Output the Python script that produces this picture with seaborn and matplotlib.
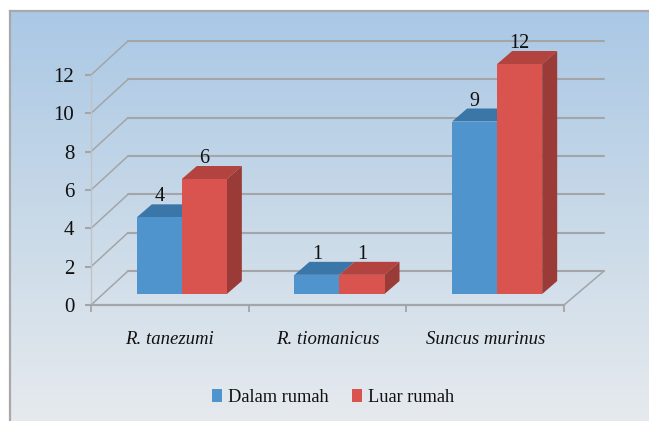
import numpy as np
import pandas as pd
import matplotlib
matplotlib.use('Agg')
import matplotlib.pyplot as plt
from matplotlib.patches import Polygon
import seaborn as sns

# Values
species = ['R. tanezumi', 'R. tiomanicus', 'Suncus murinus']
dalam_rumah = [4, 1, 9]
luar_rumah = [6, 1, 12]
y_ticks = [0, 2, 4, 6, 8, 10, 12]

W, H = 649, 421
PX_X = 157.67   # pixels per category
PX_Y = 19.17    # pixels per y unit

# depth of the fake 3d box and of the bars, in data units
wall_dx, wall_dy = 37 / PX_X, 34 / PX_Y
wall_right_dx = 40 / PX_X
slab_dx, slab_dy = 12 / PX_X, 11 / PX_Y
bar_dx, bar_dy = 15 / PX_X, 13 / PX_Y

GRID = '#a3a5a8'
BLUE, BLUE_TOP = '#4f94cd', '#3a76a8'
RED, RED_TOP, RED_SIDE = '#d9534f', '#b3433f', '#9a3b38'

sns.set_style('white')
plt.rcParams['font.family'] = ['Liberation Serif', 'DejaVu Serif']

df = pd.DataFrame({
    'species': species * 2,
    'count': dalam_rumah + luar_rumah,
    'where': ['Dalam rumah'] * 3 + ['Luar rumah'] * 3,
})

fig = plt.figure(figsize=(W / 100, H / 100), dpi=100, facecolor='white')

# panel background with the vertical gradient
bg = fig.add_axes([10 / W, 0, 1 - 10 / W, 1 - 11 / H], zorder=0)
grad = np.linspace(0, 1, 256).reshape(-1, 1)
cmap = matplotlib.colors.LinearSegmentedColormap.from_list('bg', ['#aac8e5', '#c8d9e8', '#e6eaee'])
bg.imshow(grad, aspect='auto', cmap=cmap, extent=(0, 1, 0, 1), origin='upper')
bg.set_xticks([])
bg.set_yticks([])
for side in ['right', 'bottom']:
    bg.spines[side].set_visible(False)
for side in ['left', 'top']:
    bg.spines[side].set_color('#a8a8a8')
    bg.spines[side].set_linewidth(1.6)

ax = fig.add_axes([91 / W, 1 - 305 / H, (564 - 91) / W, 230 / H], zorder=1)
ax.patch.set_alpha(0)

sns.barplot(data=df, x='species', y='count', hue='where', order=species,
            palette=[BLUE, RED], width=0.571, gap=0, saturation=1, linewidth=0, ax=ax, zorder=5)
ax.set_xlim(-0.5, 2.5)
ax.set_ylim(0, 12)
ax.set_xlabel('')
ax.set_ylabel('')

# back wall and the lines running to it
for v in y_ticks:
    ax.plot([-0.5 + wall_dx, 2.5 + wall_right_dx], [v + wall_dy, v + wall_dy], color=GRID, lw=1.5, clip_on=False, zorder=2)
    ax.plot([-0.5, -0.5 + wall_dx], [v, v + wall_dy], color=GRID, lw=1.1, clip_on=False, zorder=2)
ax.plot([2.5, 2.5 + wall_right_dx], [0, wall_dy], color=GRID, lw=1.1, clip_on=False, zorder=2)


def add_face(points, color, z):
    ax.add_patch(Polygon(points, closed=True, facecolor=color, edgecolor='none', clip_on=False, zorder=z))


# bars sit part way into the box, so push them back and give them faces
for n, (cont, top_col) in enumerate(zip(ax.containers, [BLUE_TOP, RED_TOP])):
    for bar, val in zip(cont, [dalam_rumah, luar_rumah][n]):
        bar.set_x(bar.get_x() + slab_dx)
        bar.set_y(slab_dy)
        bar.set_clip_on(False)
        bar.set_zorder(5 + n * 2)
        x0, x1 = bar.get_x(), bar.get_x() + bar.get_width()
        y1 = slab_dy + val
        add_face([(x0, y1), (x1, y1), (x1 + bar_dx, y1 + bar_dy), (x0 + bar_dx, y1 + bar_dy)], top_col, 4 + n * 2)
        if n == 1:
            add_face([(x1, slab_dy), (x1 + bar_dx, slab_dy + bar_dy), (x1 + bar_dx, y1 + bar_dy), (x1, y1)], RED_SIDE, 4 + n * 2)
        ax.annotate(str(val), ((x0 + x1) / 2, y1 + bar_dy), xytext=(0, -1.5), textcoords='offset points',
                    ha='center', va='bottom', fontsize=14.5, color='#111111', zorder=10, annotation_clip=False)

ax.set_yticks(y_ticks)
ax.tick_params(axis='y', left=True, length=4, width=1.5, color=GRID, labelsize=15, pad=8, labelcolor='#111111')
ax.set_xticks([-0.5, 0.5, 1.5, 2.5], minor=True)
ax.tick_params(axis='x', which='minor', bottom=True, length=5, width=1.3, color=GRID)
ax.tick_params(axis='x', which='major', bottom=False, labelsize=13.5, pad=15.5, labelcolor='#111111')
for lab in ax.get_xticklabels():
    lab.set_fontstyle('italic')

sns.despine(ax=ax, top=True, right=True)
ax.spines['left'].set_color('#c0c2c5')
ax.spines['left'].set_linewidth(1)
ax.spines['bottom'].set_color(GRID)
ax.spines['bottom'].set_linewidth(1.6)

ax.legend(loc='center', bbox_to_anchor=(333 / W, 1 - 397 / H), bbox_transform=fig.transFigure, ncol=2,
          frameon=False, fontsize=13.2, handlelength=0.55, handleheight=0.7, handletextpad=0.3,
          columnspacing=1.3, labelcolor='#111111')

fig.savefig('out.png', dpi=100)
